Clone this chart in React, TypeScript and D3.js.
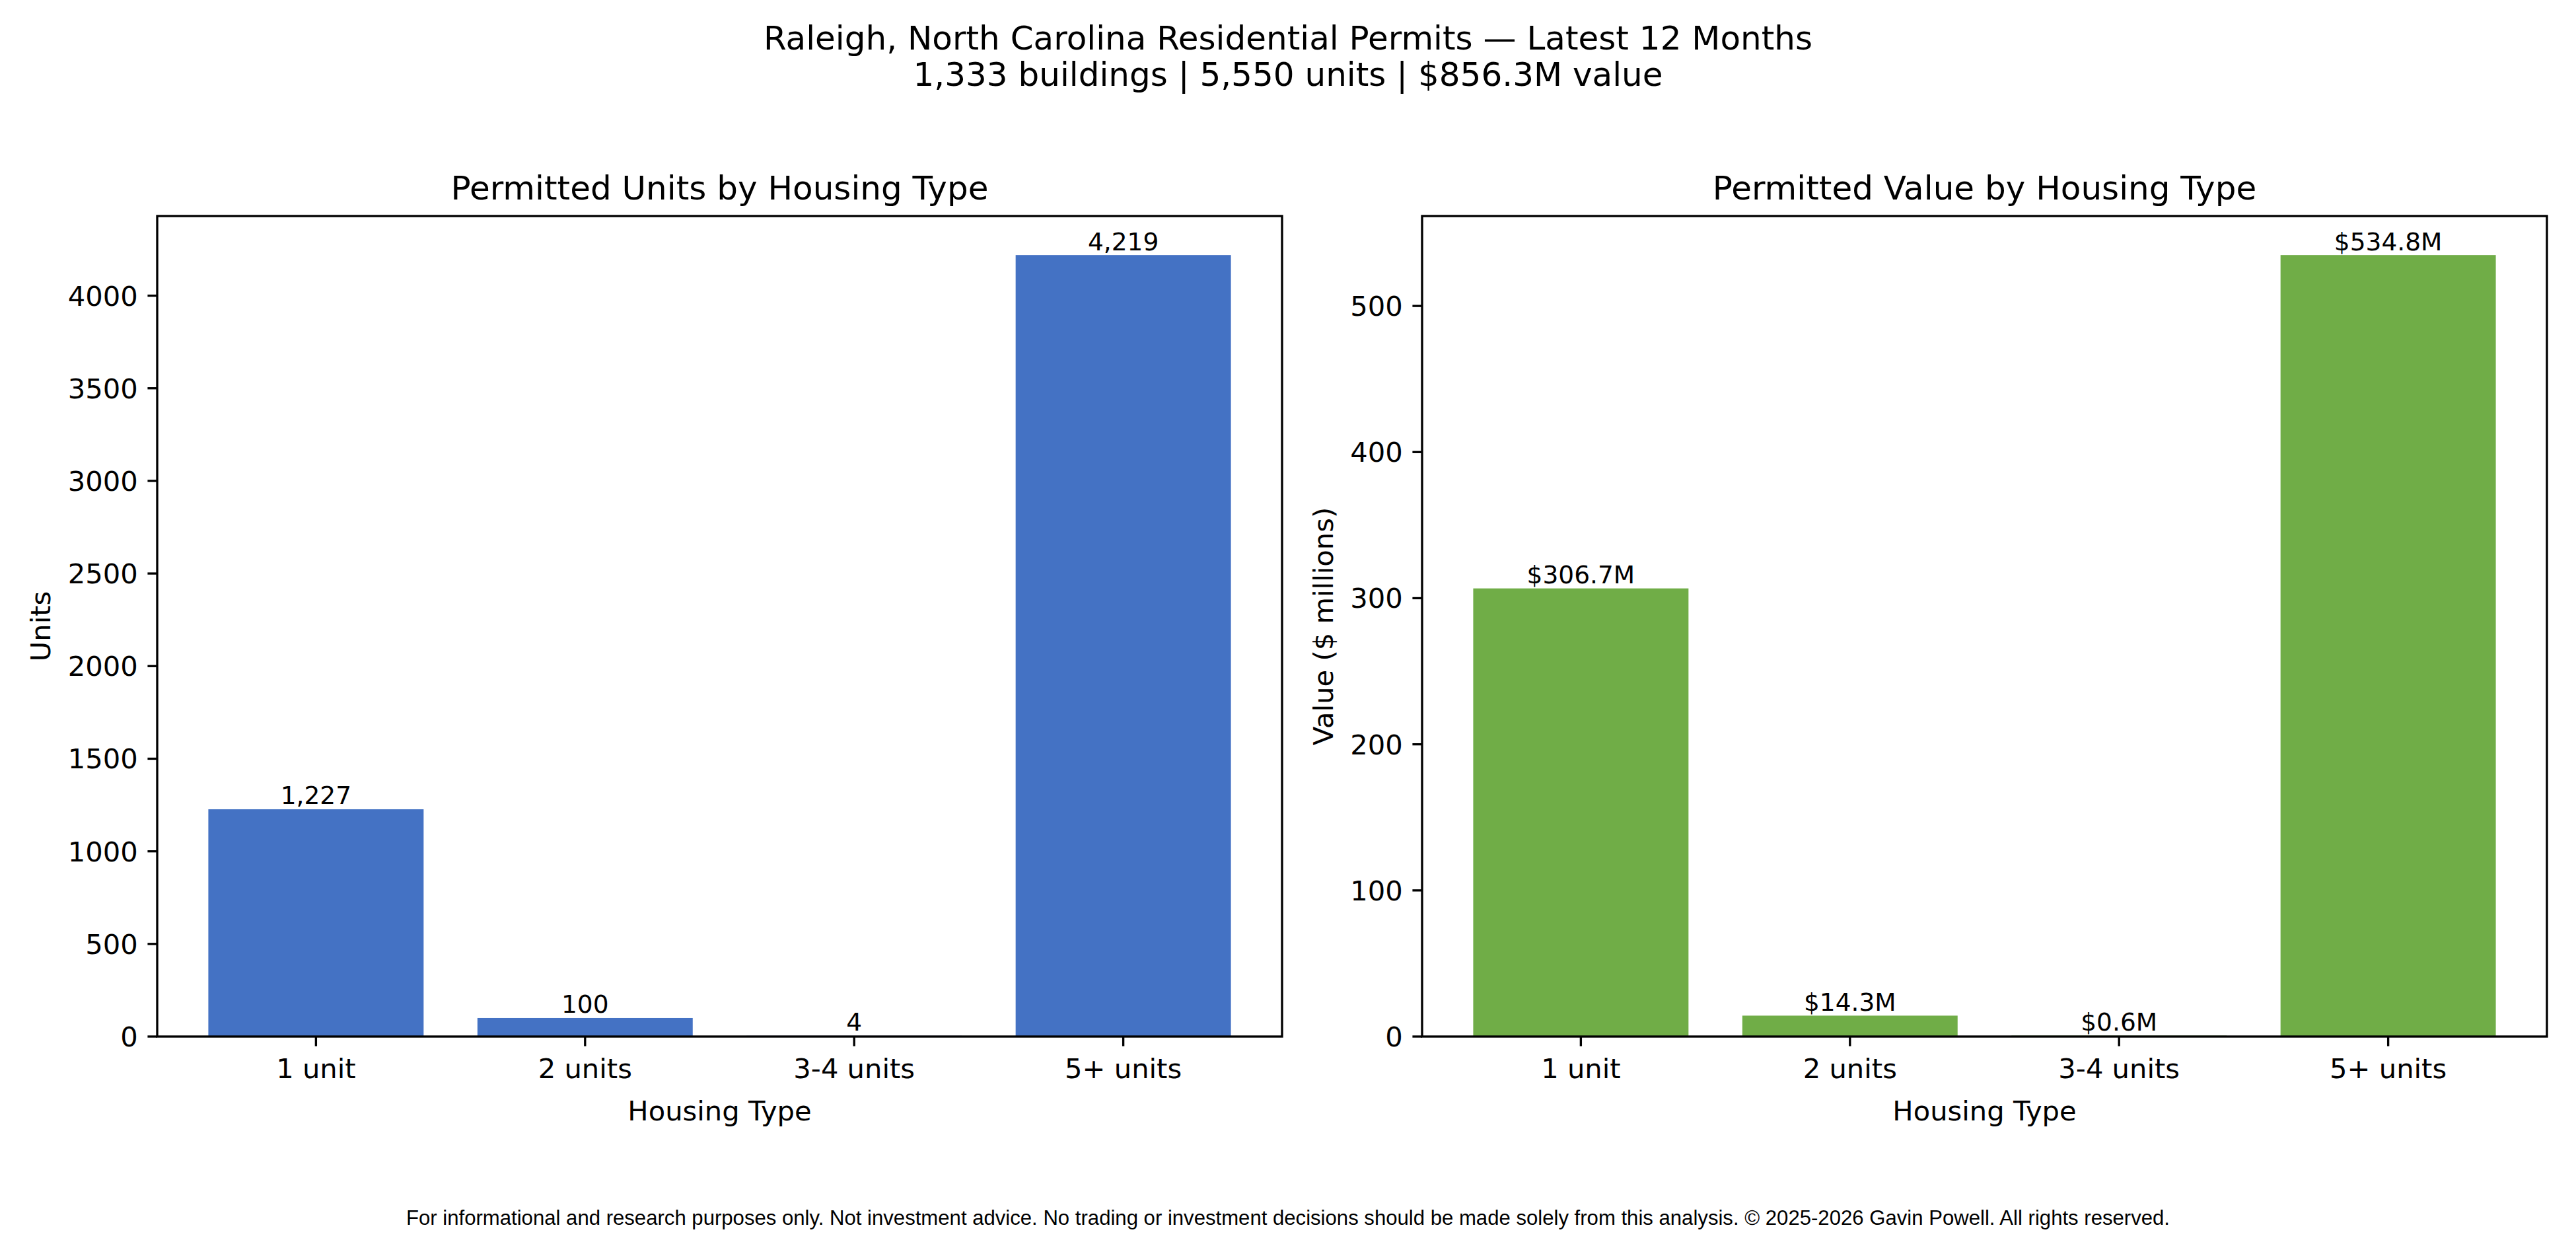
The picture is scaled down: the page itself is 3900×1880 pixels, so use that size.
import React from 'react';
import * as d3 from 'd3';

// housing types and the two measured series
const categories = ['1 unit', '2 units', '3-4 units', '5+ units'];
const units = [1227, 100, 4, 4219];
const valuesM = [306.7, 14.3, 0.6, 534.8];

const unitTicks = [0, 500, 1000, 1500, 2000, 2500, 3000, 3500, 4000];
const valueTicks = [0, 100, 200, 300, 400, 500];

const titleLines = [
  'Raleigh, North Carolina Residential Permits \u2014 Latest 12 Months',
  '1,333 buildings | 5,550 units | $856.3M value',
];
const footer =
  'For informational and research purposes only. Not investment advice. No trading or investment decisions should be made solely from this analysis. \u00a9 2025-2026 Gavin Powell. All rights reserved.';

const W = 3900;
const H = 1880;
const TOP = 327;
const BOTTOM = 1569;
const PT = 300 / 72;
const FONT = 'DejaVu Sans, sans-serif';
const TICK = 3.5 * PT;
const LW = 0.8 * PT;

interface PanelProps {
  x0: number;
  x1: number;
  data: number[];
  ticks: number[];
  color: string;
  title: string;
  ylabel: string;
  fmt: (v: number) => string;
}

function Panel({ x0, x1, data, ticks, color, title, ylabel, fmt }: PanelProps) {
  const x = d3
    .scaleBand<string>()
    .domain(categories)
    .range([x0, x1])
    .paddingInner(0.2)
    .paddingOuter(0.19);
  const y = d3
    .scaleLinear()
    .domain([0, (d3.max(data) as number) * 1.05])
    .range([BOTTOM, TOP]);

  const tickFont = 10 * PT;
  const labelRight = x0 - TICK - 3.5 * PT;
  const maxTickW = d3.max(ticks, (t) => String(t).length * 0.636 * tickFont) as number;
  const ylabelX = labelRight - maxTickW - 4 * PT - 0.236 * tickFont;

  return (
    <g>
      {data.map((v, i) => (
        <rect
          key={`bar${i}`}
          x={x(categories[i])}
          y={y(v)}
          width={x.bandwidth()}
          height={BOTTOM - y(v)}
          fill={color}
        />
      ))}
      {data.map((v, i) => (
        <text
          key={`lab${i}`}
          x={(x(categories[i]) as number) + x.bandwidth() / 2}
          y={y(v) - 0.2 * 9 * PT}
          fontSize={9 * PT}
          textAnchor="middle"
        >
          {fmt(v)}
        </text>
      ))}
      <rect x={x0} y={TOP} width={x1 - x0} height={BOTTOM - TOP} fill="none" stroke="#000" strokeWidth={LW} />
      {ticks.map((t) => (
        <g key={`yt${t}`}>
          <line x1={x0 - TICK} x2={x0} y1={y(t)} y2={y(t)} stroke="#000" strokeWidth={LW} />
          <text x={labelRight} y={y(t)} dy="0.36em" fontSize={tickFont} textAnchor="end">
            {t}
          </text>
        </g>
      ))}
      {categories.map((c) => {
        const cx = (x(c) as number) + x.bandwidth() / 2;
        return (
          <g key={`xt${c}`}>
            <line x1={cx} x2={cx} y1={BOTTOM} y2={BOTTOM + TICK} stroke="#000" strokeWidth={LW} />
            <text x={cx} y={1632} fontSize={tickFont} textAnchor="middle">
              {c}
            </text>
          </g>
        );
      })}
      <text x={(x0 + x1) / 2} y={1696} fontSize={tickFont} textAnchor="middle">
        Housing Type
      </text>
      <text
        transform={`translate(${ylabelX},${(TOP + BOTTOM) / 2}) rotate(-90)`}
        fontSize={tickFont}
        textAnchor="middle"
      >
        {ylabel}
      </text>
      <text x={(x0 + x1) / 2} y={302} fontSize={12 * PT} textAnchor="middle">
        {title}
      </text>
    </g>
  );
}

export default function App() {
  return (
    <svg
      width={W}
      height={H}
      viewBox={`0 0 ${W} ${H}`}
      style={{ position: 'absolute', left: 0, top: 0, background: '#fff' }}
      fontFamily={FONT}
    >
      <rect width={W} height={H} fill="#fff" />
      {titleLines.map((t, i) => (
        <text key={t} x={W / 2} y={75 + i * 55} fontSize={12 * PT} textAnchor="middle">
          {t}
        </text>
      ))}
      <Panel
        x0={238}
        x1={1941}
        data={units}
        ticks={unitTicks}
        color="#4472C4"
        title="Permitted Units by Housing Type"
        ylabel="Units"
        fmt={d3.format(',')}
      />
      <Panel
        x0={2153}
        x1={3856}
        data={valuesM}
        ticks={valueTicks}
        color="#70AD47"
        title="Permitted Value by Housing Type"
        ylabel="Value ($ millions)"
        fmt={(v) => `$${d3.format('.1f')(v)}M`}
      />
      <text
        x={W / 2}
        y={1854}
        fontSize={32}
        textAnchor="middle"
        textLength={2670}
        lengthAdjust="spacingAndGlyphs"
        fontFamily="Liberation Sans, Arial, sans-serif"
      >
        {footer}
      </text>
    </svg>
  );
}
